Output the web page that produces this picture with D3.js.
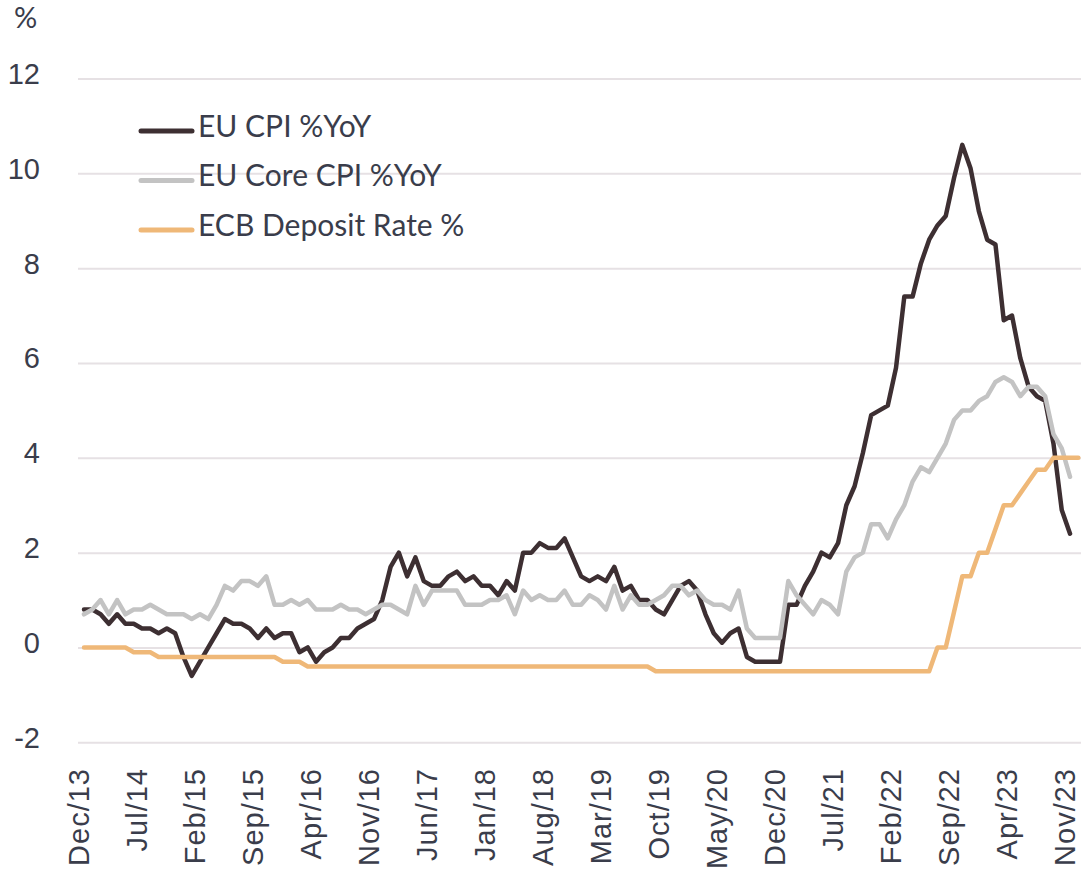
<!DOCTYPE html>
<html lang="en">
<head>
  <meta charset="UTF-8">
  <title>EU CPI and ECB deposit rate</title>
  <style>
    body { margin: 0; background: #fff; }
    svg { display: block; font-family: Lato, "Open Sans", sans-serif; }
  </style>
</head>
<body>
  <svg width="1081" height="875"></svg>
  <script src="https://cdn.jsdelivr.net/npm/d3@7/dist/d3.min.js"></script>
  <script>
    // monthly categories Dec/13 .. Dec/23
    var fmt = d3.timeFormat('%b/%y')
    var months = d3.timeMonth.range(new Date(2013, 11, 1), new Date(2024, 0, 1)).map(fmt)

    var tickLabels = ['Dec/13', 'Jul/14', 'Feb/15', 'Sep/15', 'Apr/16', 'Nov/16', 'Jun/17', 'Jan/18', 'Aug/18',
      'Mar/19', 'Oct/19', 'May/20', 'Dec/20', 'Jul/21', 'Feb/22', 'Sep/22', 'Apr/23', 'Nov/23']
    var yTicks = [-2, 0, 2, 4, 6, 8, 10, 12]

    // Dec/13 .. Nov/23
    var cpi = [0.8,
      0.8, 0.7, 0.5, 0.7, 0.5, 0.5, 0.4, 0.4, 0.3, 0.4, 0.3, -0.2,
      -0.6, -0.3, 0.0, 0.3, 0.6, 0.5, 0.5, 0.4, 0.2, 0.4, 0.2, 0.3,
      0.3, -0.1, 0.0, -0.3, -0.1, 0.0, 0.2, 0.2, 0.4, 0.5, 0.6, 1.0,
      1.7, 2.0, 1.5, 1.9, 1.4, 1.3, 1.3, 1.5, 1.6, 1.4, 1.5, 1.3,
      1.3, 1.1, 1.4, 1.2, 2.0, 2.0, 2.2, 2.1, 2.1, 2.3, 1.9, 1.5,
      1.4, 1.5, 1.4, 1.7, 1.2, 1.3, 1.0, 1.0, 0.8, 0.7, 1.0, 1.3,
      1.4, 1.2, 0.7, 0.3, 0.1, 0.3, 0.4, -0.2, -0.3, -0.3, -0.3, -0.3,
      0.9, 0.9, 1.3, 1.6, 2.0, 1.9, 2.2, 3.0, 3.4, 4.1, 4.9, 5.0,
      5.1, 5.9, 7.4, 7.4, 8.1, 8.6, 8.9, 9.1, 9.9, 10.6, 10.1, 9.2,
      8.6, 8.5, 6.9, 7.0, 6.1, 5.5, 5.3, 5.2, 4.3, 2.9, 2.4]

    var coreCpi = [0.7,
      0.8, 1.0, 0.7, 1.0, 0.7, 0.8, 0.8, 0.9, 0.8, 0.7, 0.7, 0.7,
      0.6, 0.7, 0.6, 0.9, 1.3, 1.2, 1.4, 1.4, 1.3, 1.5, 0.9, 0.9,
      1.0, 0.9, 1.0, 0.8, 0.8, 0.8, 0.9, 0.8, 0.8, 0.7, 0.8, 0.9,
      0.9, 0.8, 0.7, 1.3, 0.9, 1.2, 1.2, 1.2, 1.2, 0.9, 0.9, 0.9,
      1.0, 1.0, 1.1, 0.7, 1.2, 1.0, 1.1, 1.0, 1.0, 1.2, 0.9, 0.9,
      1.1, 1.0, 0.8, 1.3, 0.8, 1.1, 0.9, 0.9, 1.0, 1.1, 1.3, 1.3,
      1.1, 1.2, 1.0, 0.9, 0.9, 0.8, 1.2, 0.4, 0.2, 0.2, 0.2, 0.2,
      1.4, 1.1, 0.9, 0.7, 1.0, 0.9, 0.7, 1.6, 1.9, 2.0, 2.6, 2.6,
      2.3, 2.7, 3.0, 3.5, 3.8, 3.7, 4.0, 4.3, 4.8, 5.0, 5.0, 5.2,
      5.3, 5.6, 5.7, 5.6, 5.3, 5.5, 5.5, 5.3, 4.5, 4.2, 3.6]

    // Dec/13 .. Dec/23
    var ecbRate = [0, 0, 0, 0, 0, 0,
      -0.1, -0.1, -0.1,
      -0.2, -0.2, -0.2, -0.2, -0.2, -0.2, -0.2, -0.2, -0.2, -0.2, -0.2, -0.2, -0.2, -0.2, -0.2,
      -0.3, -0.3, -0.3,
      -0.4, -0.4, -0.4, -0.4, -0.4, -0.4, -0.4, -0.4, -0.4, -0.4, -0.4, -0.4, -0.4, -0.4,
      -0.4, -0.4, -0.4, -0.4, -0.4, -0.4, -0.4, -0.4, -0.4, -0.4, -0.4, -0.4, -0.4, -0.4,
      -0.4, -0.4, -0.4, -0.4, -0.4, -0.4, -0.4, -0.4, -0.4, -0.4, -0.4, -0.4, -0.4, -0.4,
      -0.5, -0.5, -0.5, -0.5, -0.5, -0.5, -0.5, -0.5, -0.5, -0.5, -0.5, -0.5, -0.5, -0.5, -0.5, -0.5, -0.5,
      -0.5, -0.5, -0.5, -0.5, -0.5, -0.5, -0.5, -0.5, -0.5, -0.5, -0.5, -0.5, -0.5, -0.5, -0.5, -0.5, -0.5,
      0, 0, 0.75, 1.5, 1.5, 2, 2, 2.5, 3, 3, 3.25, 3.5, 3.75, 3.75, 4, 4, 4, 4]

    var series = [
      { name: 'EU CPI %YoY', values: cpi, color: '#3d2f32' },
      { name: 'EU Core CPI %YoY', values: coreCpi, color: '#c3c3c3' },
      { name: 'ECB Deposit Rate %', values: ecbRate, color: '#efb878' }
    ]

    var textColor = '#3a3d4b'
    var svg = d3.select('svg')

    var x = d3.scalePoint()
      .domain(months)
      .range([84, 84 + 8.286 * (months.length - 1)])
    var y = d3.scaleLinear()
      .domain([-2, 12])
      .range([742.3, 78.5])

    // y grid + labels
    var yAxis = svg.append('g')
      .attr('transform', 'translate(78,0)')
      .call(d3.axisRight(y).tickValues(yTicks).tickSize(1003).tickFormat(String))
    yAxis.select('.domain').remove()
    yAxis.selectAll('line').attr('stroke', '#e6e1e4').attr('stroke-width', 2)
    yAxis.selectAll('text')
      .attr('x', -38)
      .attr('dy', 5)
      .attr('text-anchor', 'end')
      .attr('fill', textColor)
      .style('font-size', '29px')

    svg.append('text')
      .attr('x', 14)
      .attr('y', 28)
      .attr('fill', textColor)
      .style('font-size', '29px')
      .text('%')

    // x labels
    var xAxis = svg.append('g')
      .attr('transform', 'translate(0,768)')
      .call(d3.axisBottom(x).tickValues(tickLabels).tickSize(0))
    xAxis.select('.domain').remove()
    xAxis.selectAll('text')
      .attr('x', 0)
      .attr('y', 0)
      .attr('dy', 4)
      .attr('transform', 'rotate(-90)')
      .attr('text-anchor', 'end')
      .attr('fill', textColor)
      .style('font-size', '29px')
      .style('letter-spacing', '1px')

    // lines
    var line = d3.line()
      .defined(function(d) { return d != null })
      .x(function(d, i) { return x(months[i]) })
      .y(function(d) { return y(d) })

    svg.selectAll('.series')
      .data(series)
      .enter()
      .append('path')
      .attr('class', 'series')
      .attr('fill', 'none')
      .attr('stroke', function(d) { return d.color })
      .attr('stroke-width', 4.5)
      .attr('stroke-linejoin', 'round')
      .attr('stroke-linecap', 'round')
      .attr('d', function(d) { return line(d.values) })

    // legend
    var legend = svg.append('g')
    var items = legend.selectAll('g')
      .data(series)
      .enter()
      .append('g')
      .attr('transform', function(d, i) { return 'translate(0,' + (131 + i * 49.5) + ')' })
    items.append('line')
      .attr('x1', 141).attr('x2', 192)
      .attr('stroke', function(d) { return d.color })
      .attr('stroke-width', 5)
      .attr('stroke-linecap', 'round')
    items.append('text')
      .attr('x', 198)
      .attr('y', 5.5)
      .attr('fill', textColor)
      .style('font-size', '30px')
      .text(function(d) { return d.name })
  </script>
</body>
</html>
